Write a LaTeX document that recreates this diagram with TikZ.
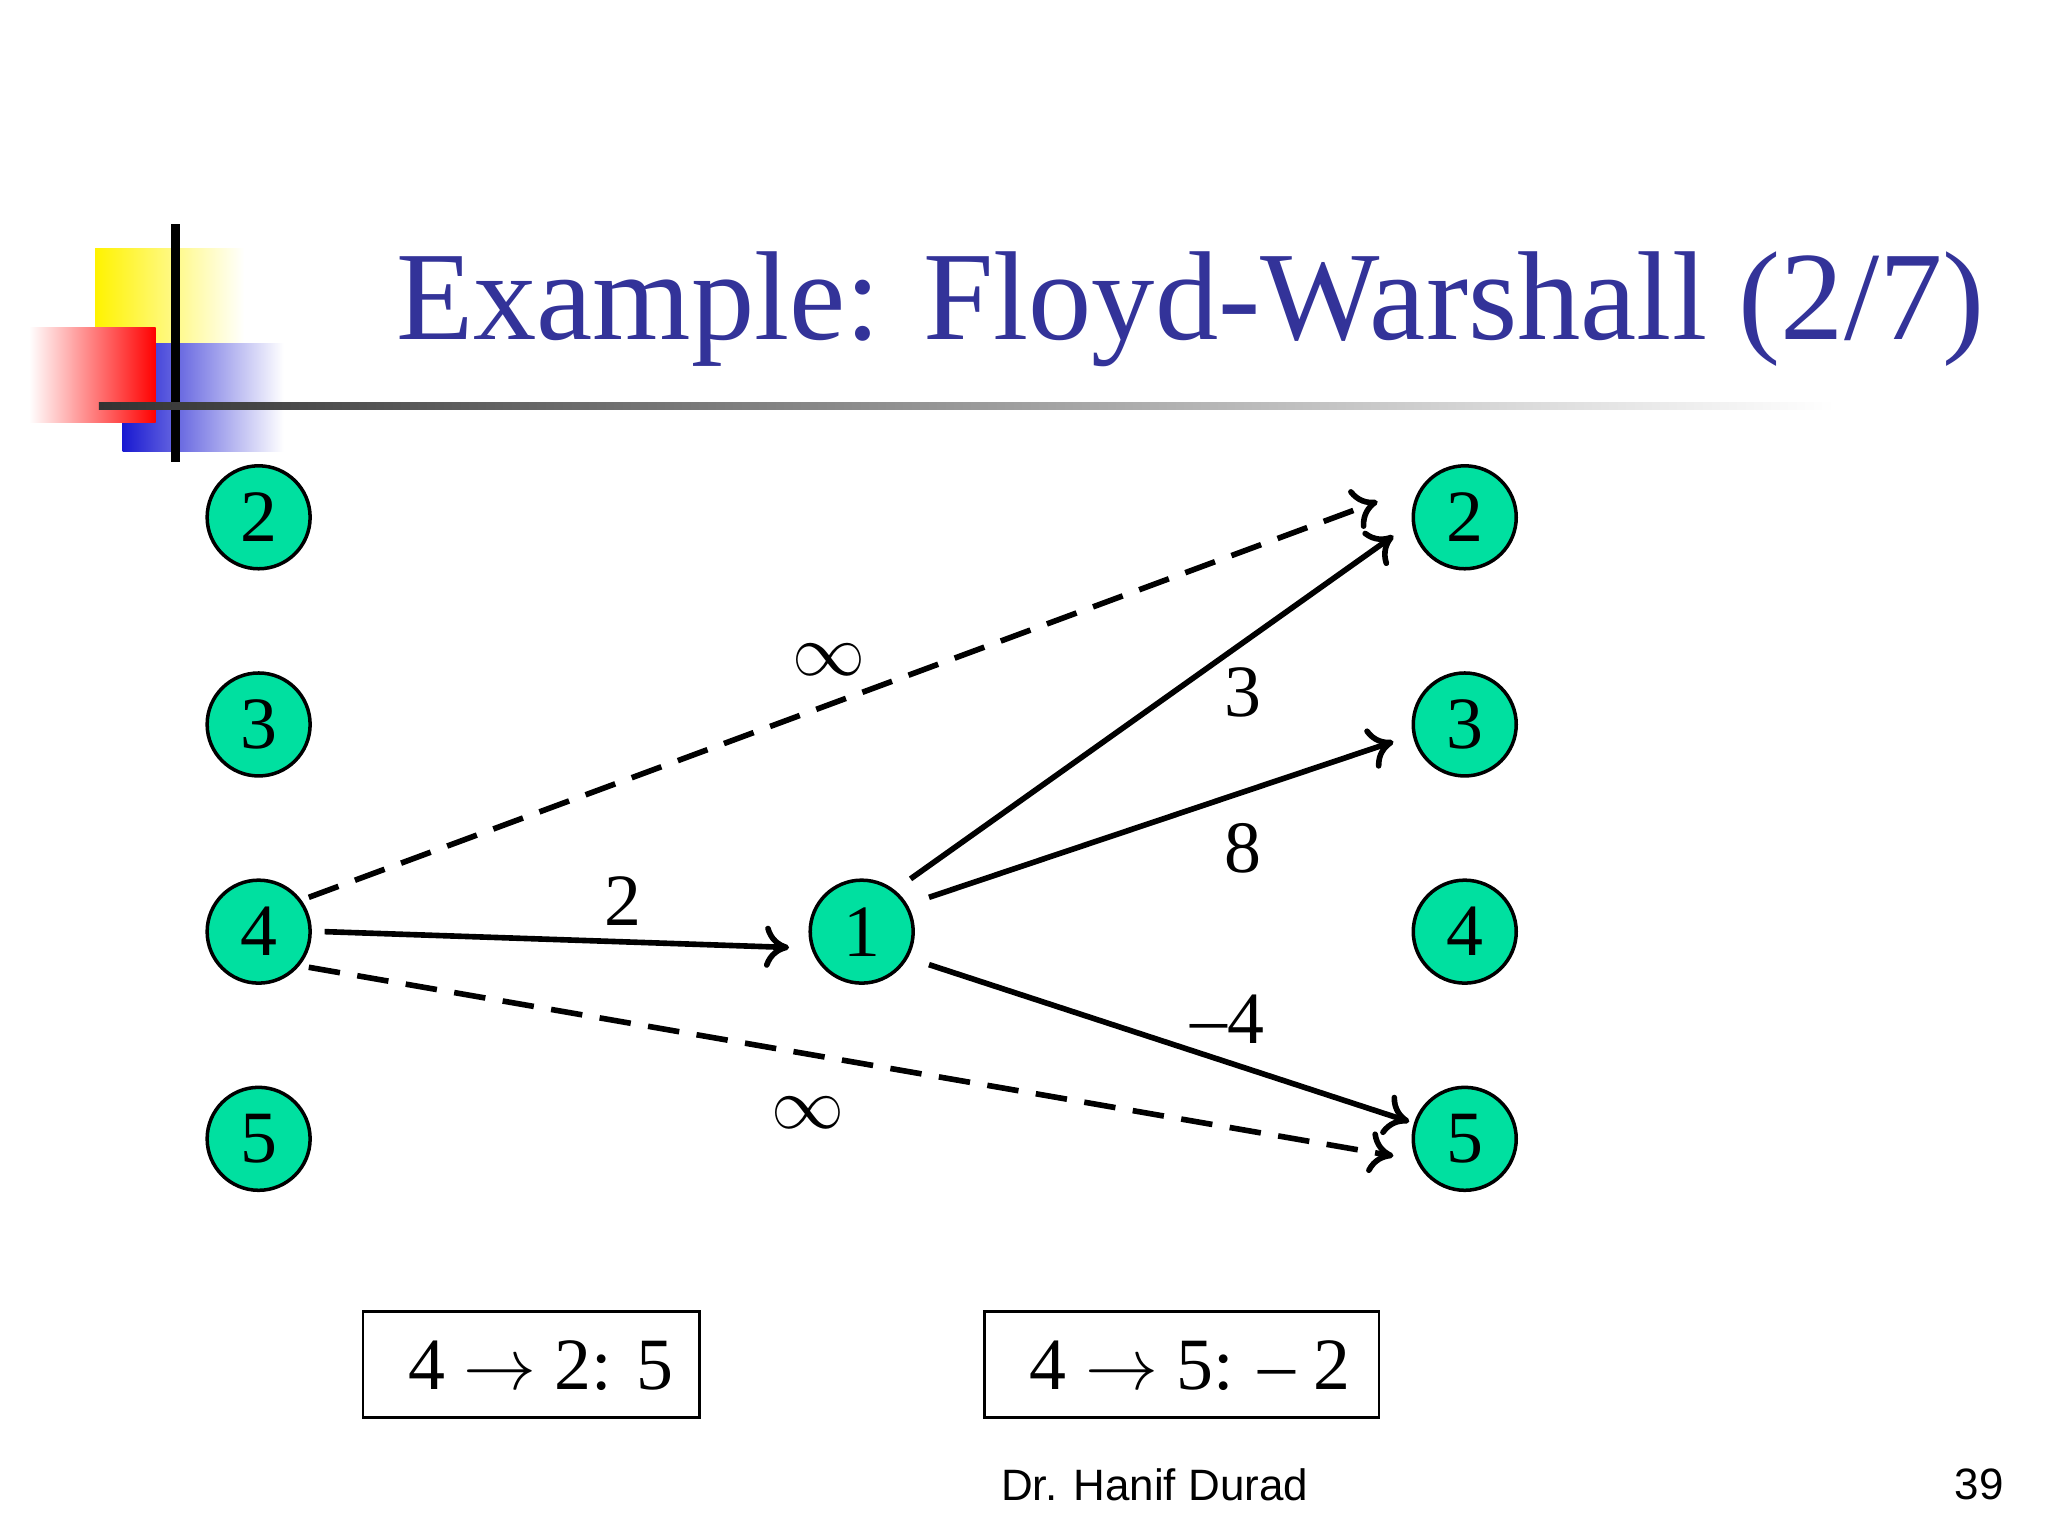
\documentclass[tikz,border=0pt]{standalone}
\usepackage{fontspec}
\setmainfont{Liberation Serif}
\newfontfamily\sans{Liberation Sans}
\usetikzlibrary{arrows.meta}
\definecolor{nodeg}{HTML}{00E0A0}
\definecolor{titleblue}{HTML}{333399}
\begin{document}
\begin{tikzpicture}[x=0.013196cm,y=-0.013196cm,
  v/.style={circle,draw=black,line width=1pt,fill=nodeg,minimum size=1.03cm,inner sep=0pt,font=\fontsize{21}{21}\selectfont},
  e/.style={line width=1.6pt,-{To[length=7pt,width=12pt,line width=1.6pt]}},
  d/.style={e,dash pattern=on 9pt off 5pt},
  lab/.style={font=\fontsize{21}{21}\selectfont},
  bx/.style={draw=black,line width=0.8pt,anchor=north west,inner sep=0pt}]
\useasboundingbox (0,0) rectangle (1552,1164);
\fill[white] (0,0) rectangle (1552,1164);
% logo
\shade[left color=yellow!90!orange,right color=white] (72,188) rectangle (185,260);
\shade[left color=blue!80!black!90,right color=white] (93,260) rectangle (215,342);
\shade[left color=white,right color=red] (22,248) rectangle (118,320);
\draw[line width=2.5pt] (133,170) -- (133,350);
\shade[left color=black!80,right color=white] (75,305) rectangle (1390,310);
\node[text=titleblue,font=\fontsize{36}{36}\selectfont,anchor=base] (t) at (902,257) {Example: Floyd-Warshall (2/7)};
% nodes
\node[v] (l2) at (196,392) {2};
\node[v] (l3) at (196,549) {3};
\node[v] (l4) at (196,706) {4};
\node[v] (l5) at (196,863) {5};
\node[v] (m1) at (653,706) {1};
\node[v] (r2) at (1110,392) {2};
\node[v] (r3) at (1110,549) {3};
\node[v] (r4) at (1110,706) {4};
\node[v] (r5) at (1110,863) {5};
\coordinate (a1) at (246,706); \coordinate (a2) at (598,718);
\coordinate (b1) at (690,666); \coordinate (b2) at (1056,406);
\coordinate (c1) at (704,680); \coordinate (c2) at (1056,562);
\coordinate (d1) at (704,731); \coordinate (d2) at (1068,850);
\coordinate (e1) at (234,680); \coordinate (e2) at (1044,380);
\coordinate (f1) at (234,733); \coordinate (f2) at (1056,876);
\draw[e] (a1) -- (a2);
\draw[e] (b1) -- (b2);
\draw[e] (c1) -- (c2);
\draw[e] (d1) -- (d2);
\draw[d] (e1) -- (e2);
\draw[d] (f1) -- (f2);
\node[lab] (w2) at (472,683) {2};
\node[lab] (w3) at (942,525) {3};
\node[lab] (w8) at (942,643) {8};
\node[lab] (w4) at (930,772) {--4};
\node[lab] (i1) at (628,500) {$\infty$};
\node[lab] (i2) at (612,843) {$\infty$};
\node[bx,minimum width=3.365cm,minimum height=1.056cm] (bx1) at (274,993) {};
\node[lab,anchor=west] (b1t) at (300,1035) {4 $\rightarrow$ 2: 5};
\node[bx,minimum width=3.946cm,minimum height=1.056cm] (bx2) at (745,993) {};
\node[lab,anchor=west] (b2t) at (771,1035) {4 $\rightarrow$ 5: -- 2};
\node[font=\sans\fontsize{12.5}{12.5}\selectfont] (ft1) at (875,1125) {Dr. Hanif Durad};
\node[font=\sans\fontsize{12.5}{12.5}\selectfont] (ft2) at (1500,1125) {39};
\end{tikzpicture}
\end{document}
